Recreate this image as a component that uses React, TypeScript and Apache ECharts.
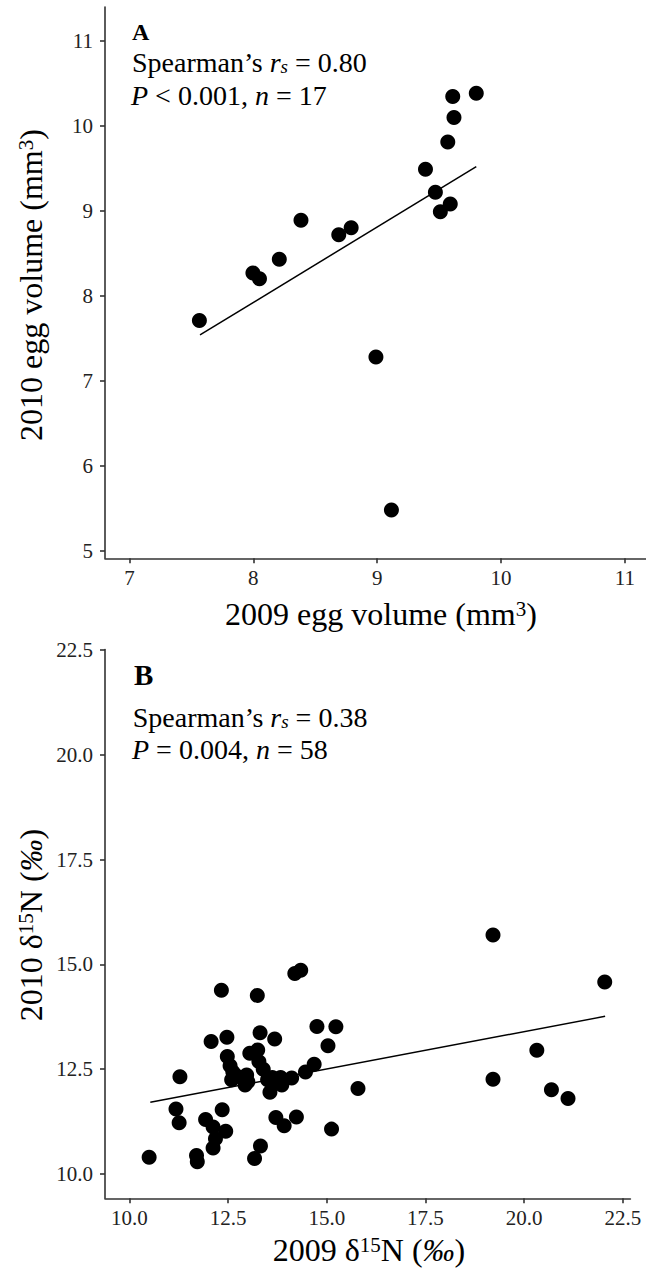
import React, { useEffect, useRef } from "react";
import * as echarts from "echarts";

const FONT = "'Liberation Serif', 'Times New Roman', serif";

// Panel A: egg volume (mm3)
const eggVol2009 = [7.565, 7.997, 8.05, 8.21, 8.385, 8.69, 8.79, 9.39, 9.47, 9.51, 9.59, 9.57, 9.62, 9.61, 9.8, 8.99, 9.115];
const eggVol2010 = [7.71, 8.27, 8.2, 8.43, 8.89, 8.72, 8.8, 9.49, 9.22, 8.99, 9.08, 9.81, 10.1, 10.345, 10.385, 7.28, 5.48];
const eggFitX = [7.57, 9.8];
const eggFitY = [7.54, 9.52];
const eggXTicks = [7, 8, 9, 10, 11];
const eggYTicks = [5, 6, 7, 8, 9, 10, 11];

// Panel B: delta 15N (permil)
const n15_2009 = [
  10.5, 11.28, 11.18, 11.26, 11.7, 11.72, 11.93, 12.35, 12.12, 12.44,
  12.18, 12.12, 12.07, 12.47, 12.33, 13.24, 12.48, 12.55, 12.62, 12.59,
  12.85, 12.93, 13.05, 13.25, 13.31, 13.68, 13.28, 13.39, 13.5, 13.56,
  13.7, 13.83, 13.86, 14.11, 13.71, 13.92, 14.23, 13.32, 13.17, 14.19,
  14.34, 14.75, 15.23, 15.03, 14.68, 14.46, 15.79, 15.12, 19.21, 20.32,
  20.69, 21.11, 22.04, 19.21, 12.97, 13.0, 13.62, 12.7,
];
const n15_2010 = [
  10.4, 12.32, 11.55, 11.22, 10.44, 10.29, 11.3, 11.53, 11.12, 11.02,
  10.84, 10.62, 13.16, 13.26, 14.38, 14.26, 12.8, 12.58, 12.43, 12.25,
  12.3, 12.12, 12.88, 12.96, 13.37, 13.22, 12.68, 12.5, 12.25, 11.95,
  12.2, 12.3, 12.12, 12.29, 11.35, 11.15, 11.36, 10.67, 10.37, 14.78,
  14.86, 13.52, 13.51, 13.06, 12.62, 12.43, 12.04, 11.07, 12.26, 12.95,
  12.01, 11.8, 14.58, 15.7, 12.36, 12.2, 12.3, 12.35,
];
const n15FitX = [10.53, 22.05];
const n15FitY = [11.71, 13.76];
const n15Ticks = [10, 12.5, 15, 17.5, 20, 22.5];

const pairs = (xs: number[], ys: number[]) => xs.map((x, i) => [x, ys[i]]);

function valueAxis(gridIndex: number, min: number, max: number, ticks: number[], digits: number, isY: boolean) {
  return {
    type: "value",
    gridIndex,
    min,
    max,
    axisLine: { show: true, onZero: false, lineStyle: { color: "#333", width: 1.6 } },
    axisTick: { show: true, length: 5, customValues: ticks, lineStyle: { color: "#333", width: 1.6 } },
    axisLabel: {
      show: true,
      customValues: ticks,
      formatter: (v: number) => v.toFixed(digits),
      color: "#222",
      fontFamily: FONT,
      fontSize: 21,
      margin: isY ? 12 : 9,
    },
    splitLine: { show: false },
  };
}

const richFor = (size: number) => ({
  i: { fontFamily: FONT, fontSize: size, fontStyle: "italic", color: "#000" },
  sub: { fontFamily: FONT, fontSize: Math.round(size * 0.68), fontStyle: "italic", verticalAlign: "bottom", lineHeight: 10, color: "#000" },
  sup: { fontFamily: FONT, fontSize: Math.round(size * 0.66), verticalAlign: "top", lineHeight: 12, color: "#000" },
});

function label(x: number, y: number, text: string, size: number, opts: any = {}) {
  return {
    type: "text",
    x,
    y,
    rotation: opts.rotation || 0,
    silent: true,
    style: {
      fontFamily: FONT,
      fill: "#000",
      text,
      fontSize: size,
      fontWeight: opts.bold ? "bold" : "normal",
      align: opts.align || "left",
      verticalAlign: "middle",
      rich: richFor(size),
    },
  };
}

const option = {
  animation: false,
  textStyle: { fontFamily: FONT, fontSize: 21, color: "#222" },
  grid: [
    { left: 105, top: 7, right: 0, bottom: 711.7 },
    { left: 105, top: 649.5, right: 15.6, bottom: 71.7 },
  ],
  xAxis: [
    valueAxis(0, 6.803, 11.17, eggXTicks, 0, false),
    valueAxis(1, 9.382, 22.69, n15Ticks, 1, false),
  ],
  yAxis: [
    valueAxis(0, 4.91, 11.4, eggYTicks, 0, true),
    valueAxis(1, 9.42, 22.51, n15Ticks, 1, true),
  ],
  series: [
    {
      type: "line",
      xAxisIndex: 0,
      yAxisIndex: 0,
      data: pairs(eggFitX, eggFitY),
      symbol: "none",
      lineStyle: { color: "#000", width: 1.5 },
      silent: true,
    },
    {
      type: "scatter",
      xAxisIndex: 0,
      yAxisIndex: 0,
      data: pairs(eggVol2009, eggVol2010),
      symbolSize: 15,
      itemStyle: { color: "#000", opacity: 1 },
    },
    {
      type: "line",
      xAxisIndex: 1,
      yAxisIndex: 1,
      data: pairs(n15FitX, n15FitY),
      symbol: "none",
      lineStyle: { color: "#000", width: 1.5 },
      silent: true,
    },
    {
      type: "scatter",
      xAxisIndex: 1,
      yAxisIndex: 1,
      data: pairs(n15_2009, n15_2010),
      symbolSize: 15,
      itemStyle: { color: "#000", opacity: 1 },
    },
  ],
  graphic: [
    label(132, 32, "A", 24, { bold: true }),
    label(132, 62.4, "Spearman’s {i|r}{sub|s} = 0.80", 28),
    label(131, 95.4, "{i|P} < 0.001, {i|n} = 17", 28),
    label(381, 614, "2009 egg volume (mm{sup|3})", 32, { align: "center" }),
    label(31, 285, "2010 egg volume (mm{sup|3})", 32, { align: "center", rotation: Math.PI / 2 }),
    label(134, 674.7, "B", 29, { bold: true }),
    label(132.7, 717.4, "Spearman’s {i|r}{sub|s} = 0.38", 28),
    label(132, 749.4, "{i|P} = 0.004, {i|n} = 58", 28),
    label(369, 1250, "2009 δ{sup|15}N ({i|‰})", 32, { align: "center" }),
    label(31, 925, "2010 δ{sup|15}N ({i|‰})", 32, { align: "center", rotation: Math.PI / 2 }),
  ],
};

export default function App() {
  const ref = useRef<HTMLDivElement>(null);
  useEffect(() => {
    document.body.style.margin = "0";
    const chart = echarts.init(ref.current as HTMLDivElement, null, { renderer: "svg" });
    chart.setOption(option as any);
    return () => chart.dispose();
  }, []);
  return <div ref={ref} style={{ width: 646, height: 1270 }} />;
}
